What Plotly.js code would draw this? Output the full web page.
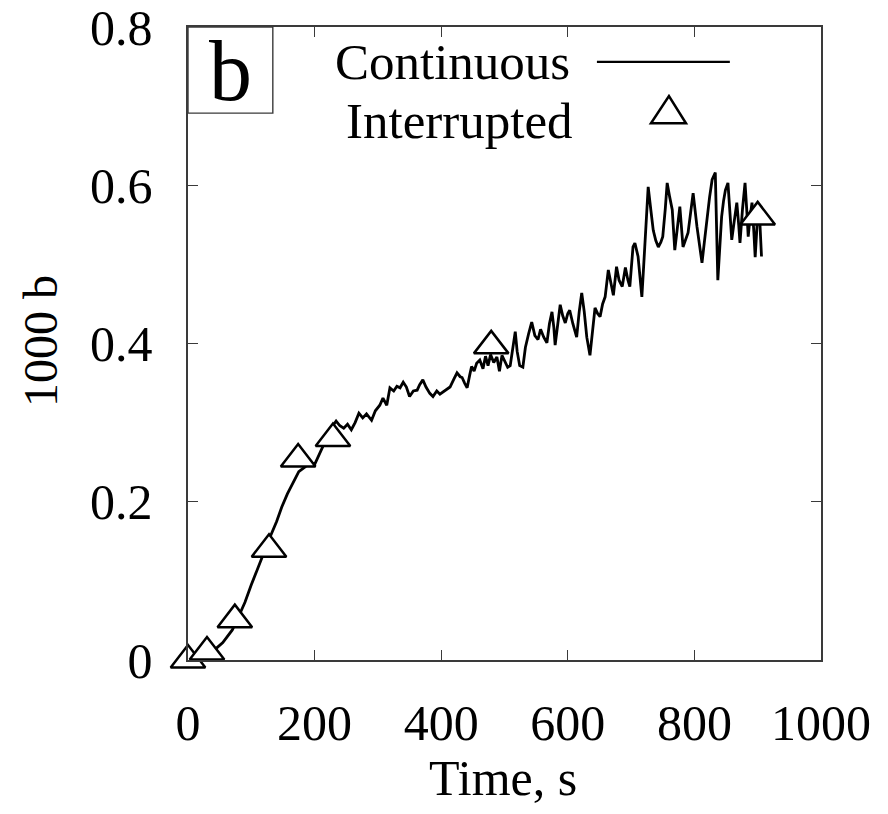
<!DOCTYPE html>
<html>
<head>
<meta charset="utf-8">
<script src="https://cdn.plot.ly/plotly-3.0.1.min.js"></script>
<style>html,body{margin:0;padding:0;background:#fff;}#chart{width:888px;height:814px;}</style>
</head>
<body>
<div id="chart"></div>
<script>
// Continuous measurement (time in s, 1000 b)
const contTime = [25,35,45,55,70,80,90,100,114,122,130,140,148,157,166,175,185,193,200,206,212,220,228,234,240,246,252,258,264,270,276,282,290,296,303,308,314,319,325,330,335,340,345,350,356,362,366,371,376,382,387,393,398,403,409,414,420,425,430,433,437,441,445,448,452,456,461,466,470,474,478,483,488,492,496,500,505,509,513,517,520,524,529,533,538,543,548,553,557,562,567,571,575,578,580,584,588,592,596,600,603,608,614,618,622,626,630,635,639,643,647,651,655,659,664,668,672,677,681,686,691,695,698,703,706,711,714,717,720,723,727,731,735,739,743,747,750,754,757,761,765,769,773,777,782,786,790,794,798,804,808,812,816,820,824,828,833,837,840,843,846,849,853,856,859,863,867,870,872,876,880,883,885,888,891,894,896,899,903,906];
const contB = [0.000,0.008,0.015,0.022,0.038,0.055,0.073,0.095,0.124,0.140,0.156,0.175,0.193,0.210,0.224,0.238,0.244,0.250,0.247,0.258,0.269,0.282,0.295,0.302,0.296,0.293,0.298,0.291,0.300,0.312,0.306,0.311,0.303,0.315,0.322,0.331,0.322,0.344,0.340,0.346,0.344,0.351,0.345,0.333,0.340,0.341,0.348,0.354,0.345,0.337,0.333,0.340,0.336,0.339,0.342,0.345,0.355,0.363,0.358,0.357,0.350,0.344,0.360,0.371,0.365,0.375,0.379,0.368,0.384,0.372,0.386,0.376,0.383,0.365,0.385,0.378,0.370,0.372,0.395,0.415,0.390,0.372,0.370,0.395,0.412,0.427,0.410,0.405,0.418,0.408,0.401,0.425,0.440,0.420,0.398,0.425,0.449,0.435,0.426,0.438,0.442,0.425,0.408,0.440,0.464,0.440,0.408,0.385,0.420,0.445,0.438,0.434,0.450,0.459,0.493,0.475,0.461,0.497,0.480,0.472,0.496,0.480,0.472,0.522,0.527,0.510,0.485,0.459,0.500,0.545,0.598,0.570,0.543,0.530,0.522,0.528,0.535,0.570,0.603,0.585,0.569,0.518,0.545,0.573,0.522,0.530,0.540,0.565,0.590,0.548,0.525,0.502,0.530,0.560,0.585,0.607,0.616,0.480,0.520,0.560,0.580,0.594,0.603,0.560,0.531,0.555,0.578,0.550,0.527,0.570,0.603,0.565,0.535,0.560,0.578,0.540,0.509,0.550,0.560,0.510];

// Interrupted measurement points
const intTime = [0,30,74,128,174,229,479,900];
const intB = [0.000,0.010,0.051,0.140,0.254,0.280,0.397,0.560];

const xTicks = [0,200,400,600,800,1000];
const xTickText = ['0','200','400','600','800','1000'];
const yTicks = [0,0.2,0.4,0.6,0.8];
const yTickText = ['0','0.2','0.4','0.6','0.8'];

const xTitle = 'Time, s';
const yTitle = '1000 b';
const legendLabels = ['Continuous','Interrupted'];
const panelLabel = 'b';

const serif = "'Liberation Serif', 'Times New Roman', Times, serif";
const axisColor = '#3a3a3a';

const traces = [
  {x: contTime, y: contB, type: 'scatter', mode: 'lines',
   line: {color: '#000', width: 2.8}, showlegend: false, hoverinfo: 'skip'},
  {x: intTime, y: intB, type: 'scatter', mode: 'markers', cliponaxis: false,
   marker: {symbol: 'triangle-up', size: 30, color: '#fff', line: {color: '#000', width: 2.5}},
   showlegend: false}
];

const axisCommon = {
  showgrid: false, zeroline: false, showline: true, mirror: 'ticks',
  linecolor: axisColor, linewidth: 1.6, ticks: 'inside', ticklen: 10,
  tickwidth: 1.4, tickcolor: axisColor, ticklabeloverflow: 'allow',
  tickfont: {family: serif, size: 50, color: '#000'}
};

const layout = {
  width: 888, height: 814,
  margin: {l: 188, r: 67, t: 27, b: 154},
  paper_bgcolor: '#fff', plot_bgcolor: '#fff',
  font: {family: serif},
  showlegend: false,
  xaxis: Object.assign({}, axisCommon, {
    range: [0, 1000], tickmode: 'array', tickvals: xTicks, ticktext: xTickText,
    ticklabelstandoff: 18
  }),
  yaxis: Object.assign({}, axisCommon, {
    range: [0, 0.8], tickmode: 'array', tickvals: yTicks, ticktext: yTickText,
    ticklabelstandoff: 24
  }),
  shapes: [
    {type: 'rect', xref: 'paper', yref: 'paper', x0: 0, x1: 0.134, y0: 0.864, y1: 1,
     line: {color: axisColor, width: 1.4}, fillcolor: 'rgba(0,0,0,0)'},
    {type: 'line', xref: 'paper', yref: 'paper', x0: 0.646, x1: 0.856, y0: 0.945, y1: 0.945,
     line: {color: '#000', width: 2.2}},
    {type: 'path', xref: 'paper', yref: 'paper',
     path: 'M 0.7314 0.848 L 0.7867 0.848 L 0.7598 0.891 Z',
     line: {color: '#000', width: 2.5}, fillcolor: '#fff'}
  ],
  annotations: [
    {xref: 'paper', yref: 'paper', x: 0.0664, y: 0.931, text: panelLabel, showarrow: false,
     xanchor: 'center', yanchor: 'middle', font: {family: serif, size: 86, color: '#000'}},
    {xref: 'paper', yref: 'paper', x: 0.607, y: 0.944, text: legendLabels[0], showarrow: false,
     xanchor: 'right', yanchor: 'middle', font: {family: serif, size: 51, color: '#000'}},
    {xref: 'paper', yref: 'paper', x: 0.611, y: 0.851, text: legendLabels[1], showarrow: false,
     xanchor: 'right', yanchor: 'middle', font: {family: serif, size: 51, color: '#000'}},
    {xref: 'paper', yref: 'paper', x: 0.4976, y: -0.186, text: xTitle, showarrow: false,
     xanchor: 'center', yanchor: 'middle', font: {family: serif, size: 50, color: '#000'}},
    {xref: 'paper', yref: 'paper', x: -0.2322, y: 0.504, text: yTitle, showarrow: false,
     textangle: -90, xanchor: 'center', yanchor: 'middle', font: {family: serif, size: 48, color: '#000'}}
  ]
};

Plotly.newPlot('chart', traces, layout, {displayModeBar: false, staticPlot: true});
</script>
</body>
</html>
